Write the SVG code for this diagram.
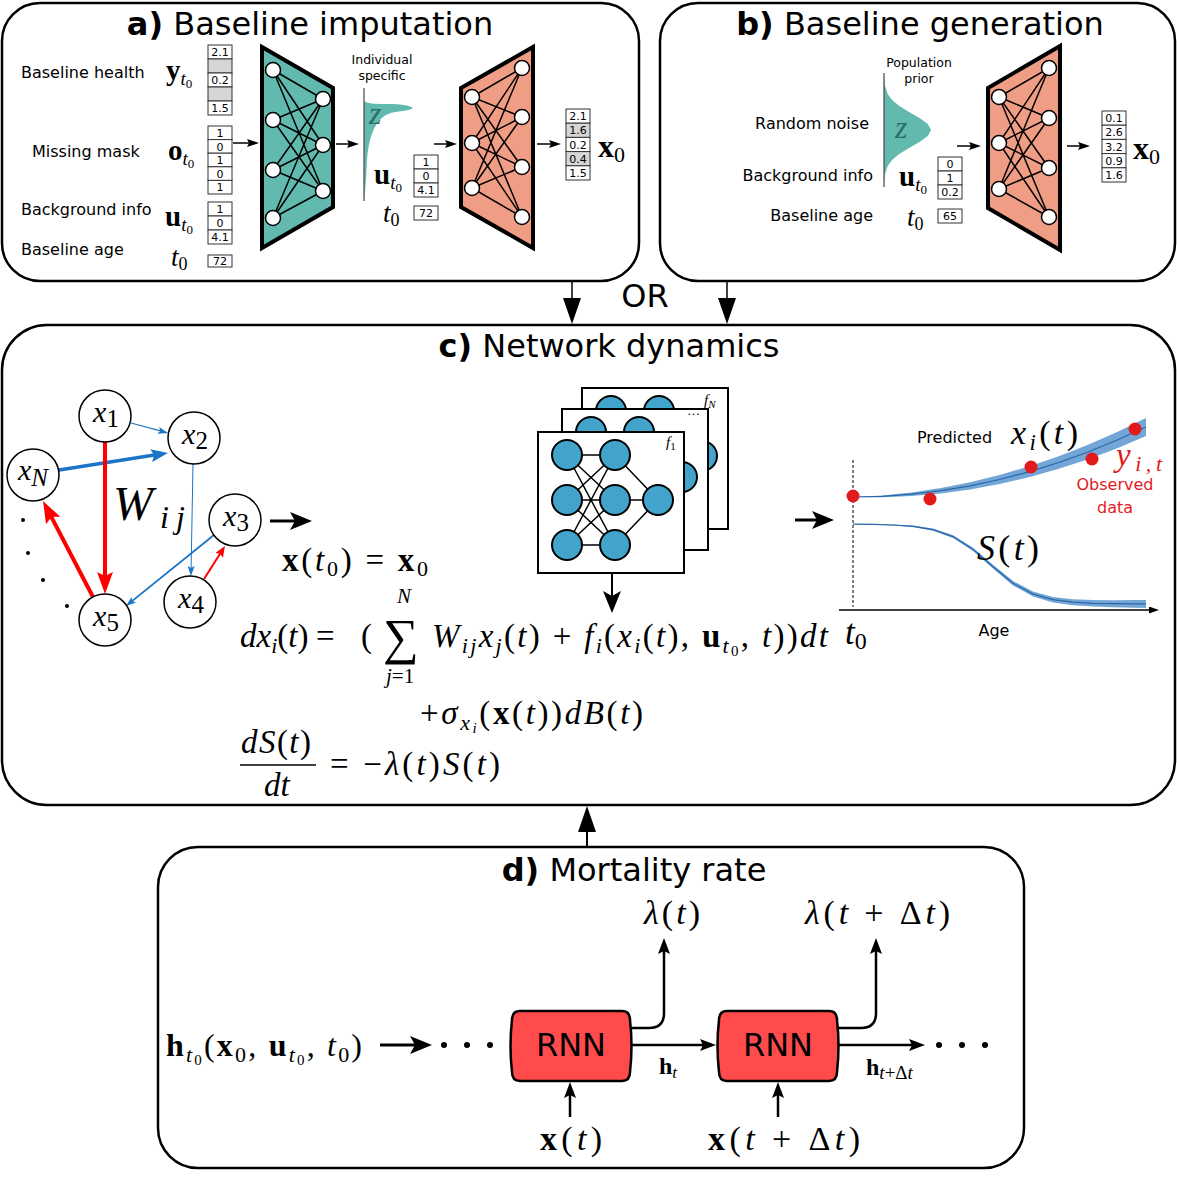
<svg xmlns="http://www.w3.org/2000/svg" xmlns:xlink="http://www.w3.org/1999/xlink" width="1177" height="1200" viewBox="0 0 1177 1200">
<style>
.pan{fill:#fff;stroke:#000;stroke-width:2.5}
.ttl{font-family:"DejaVu Sans",sans-serif;font-size:32px;text-anchor:middle}
.lb{font-family:"DejaVu Sans",sans-serif;font-size:16px}
.sm{font-family:"DejaVu Sans",sans-serif;font-size:12.5px;text-anchor:middle}
.vb{fill:#fff;stroke:#333;stroke-width:1}
.vg{fill:#d6d6d6;stroke:#333;stroke-width:1}
.vt{font-family:"DejaVu Sans",sans-serif;font-size:11px;text-anchor:middle}
.m{font-family:"Liberation Serif","DejaVu Serif",serif}
.i{font-style:italic}
.b{font-weight:bold}
.nn{fill:#fff;stroke:#000;stroke-width:1.5}
.ne{stroke:#000;stroke-width:1.5;fill:none}
.gn{fill:#fff;stroke:#000;stroke-width:1.5}
.fn{fill:#42a3cb;stroke:#000;stroke-width:2}
.teal{fill:#62b9ad;stroke:#000;stroke-width:4}
.pink{fill:#f09d86;stroke:#000;stroke-width:4}
.rnn{fill:#ff4b4b;stroke:#000;stroke-width:2.5}
.ar{stroke:#000;fill:none}
</style>
<defs>
<marker id="mBlkL" viewBox="0 0 22 18" refX="7" refY="9" markerWidth="22" markerHeight="18" markerUnits="userSpaceOnUse" orient="auto"><path d="M0,0 L22,9 L0,18 L5,9 Z" fill="#000"/></marker>
<marker id="mBlkT" viewBox="0 0 26 18" refX="3" refY="9" markerWidth="26" markerHeight="18" markerUnits="userSpaceOnUse" orient="auto"><path d="M0,0 L26,9 L0,18 Z" fill="#000"/></marker>
<marker id="mBlkM" viewBox="0 0 16 12" refX="5" refY="6" markerWidth="16" markerHeight="12" markerUnits="userSpaceOnUse" orient="auto"><path d="M0,0 L16,6 L0,12 L3,6 Z" fill="#000"/></marker>
<marker id="mBlkS" viewBox="0 0 12 8" refX="4" refY="4" markerWidth="12" markerHeight="8" markerUnits="userSpaceOnUse" orient="auto"><path d="M0,0 L12,4 L0,8 L2,4 Z" fill="#000"/></marker>
<marker id="mRedL" viewBox="0 0 22 16" refX="6" refY="8" markerWidth="22" markerHeight="16" markerUnits="userSpaceOnUse" orient="auto"><path d="M0,0 L22,8 L0,16 L4,8 Z" fill="#ff0000"/></marker>
<marker id="mRedS" viewBox="0 0 11 9" refX="3" refY="4.5" markerWidth="11" markerHeight="9" markerUnits="userSpaceOnUse" orient="auto"><path d="M0,0 L11,4.5 L0,9 L2,4.5 Z" fill="#ff0000"/></marker>
<marker id="mBluL" viewBox="0 0 17 13" refX="5" refY="6.5" markerWidth="17" markerHeight="13" markerUnits="userSpaceOnUse" orient="auto"><path d="M0,0 L17,6.5 L0,13 L3,6.5 Z" fill="#1a75c7"/></marker>
<marker id="mBluS" viewBox="0 0 10 7" refX="3" refY="3.5" markerWidth="10" markerHeight="7" markerUnits="userSpaceOnUse" orient="auto"><path d="M0,0 L10,3.5 L0,7 L2,3.5 Z" fill="#1a75c7"/></marker>
<marker id="mAx" viewBox="0 0 10 7" refX="2" refY="3.5" markerWidth="10" markerHeight="7" markerUnits="userSpaceOnUse" orient="auto"><path d="M0,0 L10,3.5 L0,7 Z" fill="#000"/></marker>
<g id="fnet">
<rect x="0" y="0" width="146" height="141" fill="#fff" stroke="#000" stroke-width="2"/>
<path class="ne" stroke-width="2" d="M29,23L77,23M29,23L77,68M29,23L77,113M29,68L77,23M29,68L77,68M29,68L77,113M29,113L77,23M29,113L77,68M29,113L77,113M77,23L120,68M77,68L120,68M77,113L120,68"/>
<circle class="fn" cx="29" cy="23" r="15"/><circle class="fn" cx="29" cy="68" r="15"/><circle class="fn" cx="29" cy="113" r="15"/>
<circle class="fn" cx="77" cy="23" r="15"/><circle class="fn" cx="77" cy="68" r="15"/><circle class="fn" cx="77" cy="113" r="15"/>
<circle class="fn" cx="120" cy="68" r="15"/>
</g>
</defs>

<g id="panel-a">
<rect class="pan" x="2" y="3" width="637" height="278" rx="38"/>
<text class="ttl" x="310" y="35"><tspan font-weight="bold">a)</tspan> Baseline imputation</text>
<text class="lb" x="21" y="78">Baseline health</text>
<text class="lb" x="32" y="157">Missing mask</text>
<text class="lb" x="21" y="215">Background info</text>
<text class="lb" x="21" y="255">Baseline age</text>
<text class="m" x="166" y="80" font-size="29"><tspan class="b">y</tspan><tspan class="i" font-size="19" dy="5">t</tspan><tspan font-size="13" dy="3">0</tspan></text>
<text class="m" x="168" y="160" font-size="29"><tspan class="b">o</tspan><tspan class="i" font-size="19" dy="5">t</tspan><tspan font-size="13" dy="3">0</tspan></text>
<text class="m" x="165" y="226" font-size="29"><tspan class="b">u</tspan><tspan class="i" font-size="19" dy="5">t</tspan><tspan font-size="13" dy="3">0</tspan></text>
<text class="m" x="171" y="266" font-size="27"><tspan class="i">t</tspan><tspan font-size="18" dy="4">0</tspan></text>
<rect class="vb" x="208" y="45" width="24" height="14"/><rect class="vg" x="208" y="59" width="24" height="14"/><rect class="vb" x="208" y="73" width="24" height="14"/><rect class="vg" x="208" y="87" width="24" height="14"/><rect class="vb" x="208" y="101" width="24" height="14"/>
<text class="vt" x="220" y="56">2.1</text><text class="vt" x="220" y="84">0.2</text><text class="vt" x="220" y="112">1.5</text>
<rect class="vb" x="208" y="126" width="24" height="13.6"/><rect class="vb" x="208" y="139.6" width="24" height="13.6"/><rect class="vb" x="208" y="153.2" width="24" height="13.6"/><rect class="vb" x="208" y="166.8" width="24" height="13.6"/><rect class="vb" x="208" y="180.4" width="24" height="13.6"/>
<text class="vt" x="220" y="137">1</text><text class="vt" x="220" y="150.6">0</text><text class="vt" x="220" y="164.2">1</text><text class="vt" x="220" y="177.8">0</text><text class="vt" x="220" y="191.4">1</text>
<rect class="vb" x="208" y="202" width="24" height="14"/><rect class="vb" x="208" y="216" width="24" height="14"/><rect class="vb" x="208" y="230" width="24" height="14"/>
<text class="vt" x="220" y="213">1</text><text class="vt" x="220" y="227">0</text><text class="vt" x="220" y="241">4.1</text>
<rect class="vb" x="208" y="255" width="24" height="12"/><text class="vt" x="220" y="265">72</text>

<polygon class="teal" points="262,47 333,88 333,207 262,248"/>
<path class="ne" d="M273,70L323,99M273,70L323,145M273,70L323,191M273,120L323,99M273,120L323,145M273,120L323,191M273,170L323,99M273,170L323,145M273,170L323,191M273,218L323,99M273,218L323,145M273,218L323,191"/>
<circle class="nn" cx="273" cy="70" r="7.5"/><circle class="nn" cx="273" cy="120" r="7.5"/><circle class="nn" cx="273" cy="170" r="7.5"/><circle class="nn" cx="273" cy="218" r="7.5"/>
<circle class="nn" cx="323" cy="99" r="7.5"/><circle class="nn" cx="323" cy="145" r="7.5"/><circle class="nn" cx="323" cy="191" r="7.5"/>

<text class="sm" x="382" y="64">Individual</text>
<text class="sm" x="382" y="80">specific</text>
<path d="M364,101 C368,104 376,104 388,104 C400,104 409,105 413,108 C408,112 398,110 388,114 C376,119 369,135 367,160 C366,180 365,195 364,200 Z" fill="#62b9ad"/>
<line x1="364" y1="88" x2="364" y2="201" stroke="#555" stroke-width="1.3"/>
<text class="m i" x="369" y="124" font-size="32" fill="#2a6f66">z</text>
<text class="m" x="374" y="184" font-size="29"><tspan class="b">u</tspan><tspan class="i" font-size="19" dy="5">t</tspan><tspan font-size="13" dy="3">0</tspan></text>
<rect class="vb" x="414" y="155" width="24" height="14"/><rect class="vb" x="414" y="169" width="24" height="14"/><rect class="vb" x="414" y="183" width="24" height="14"/>
<text class="vt" x="426" y="166">1</text><text class="vt" x="426" y="180">0</text><text class="vt" x="426" y="194">4.1</text>
<text class="m" x="383" y="222" font-size="27"><tspan class="i">t</tspan><tspan font-size="18" dy="4">0</tspan></text>
<rect class="vb" x="414" y="206" width="24" height="14"/><text class="vt" x="426" y="217">72</text>

<polygon class="pink" points="461,88 533,47 533,248 461,207"/>
<path class="ne" d="M472,97L522,68M472,97L522,117M472,97L522,167M472,97L522,217M472,143L522,68M472,143L522,117M472,143L522,167M472,143L522,217M472,188L522,68M472,188L522,117M472,188L522,167M472,188L522,217"/>
<circle class="nn" cx="472" cy="97" r="7.5"/><circle class="nn" cx="472" cy="143" r="7.5"/><circle class="nn" cx="472" cy="188" r="7.5"/>
<circle class="nn" cx="522" cy="68" r="7.5"/><circle class="nn" cx="522" cy="117" r="7.5"/><circle class="nn" cx="522" cy="167" r="7.5"/><circle class="nn" cx="522" cy="217" r="7.5"/>

<rect class="vb" x="566" y="109" width="24" height="14.2"/><rect class="vg" x="566" y="123.2" width="24" height="14.2"/><rect class="vb" x="566" y="137.4" width="24" height="14.2"/><rect class="vg" x="566" y="151.6" width="24" height="14.2"/><rect class="vb" x="566" y="165.8" width="24" height="14.2"/>
<text class="vt" x="578" y="120">2.1</text><text class="vt" x="578" y="134">1.6</text><text class="vt" x="578" y="148.5">0.2</text><text class="vt" x="578" y="162.5">0.4</text><text class="vt" x="578" y="177">1.5</text>
<text class="m" x="598" y="157" font-size="32"><tspan class="b">x</tspan><tspan font-size="22" dy="5">0</tspan></text>
</g>

<g id="panel-b">
<rect class="pan" x="660" y="3" width="515" height="278" rx="38"/>
<text class="ttl" x="920" y="35"><tspan font-weight="bold">b)</tspan> Baseline generation</text>
<text class="sm" x="919" y="67">Population</text>
<text class="sm" x="919" y="83">prior</text>
<path d="M884,76 L884.2,78 L885.1,86 L887.7,94 L892.1,100 L899.3,106 L909,112 L919.5,118 L927.8,124 L931,130 L927.8,136 L919.5,142 L909,148 L899.3,154 L892.1,160 L887.7,166 L885.1,174 L884.2,182 L884,184 Z" fill="#62b9ad"/>
<line x1="884" y1="73" x2="884" y2="187" stroke="#555" stroke-width="1.3"/>
<text class="m i" x="895" y="138" font-size="32" fill="#2a6f66">z</text>
<text class="lb" x="869" y="129" text-anchor="end">Random noise</text>
<text class="lb" x="873" y="181" text-anchor="end">Background info</text>
<text class="lb" x="873" y="221" text-anchor="end">Baseline age</text>
<text class="m" x="899" y="186" font-size="29"><tspan class="b">u</tspan><tspan class="i" font-size="19" dy="5">t</tspan><tspan font-size="13" dy="3">0</tspan></text>
<rect class="vb" x="938" y="157" width="24" height="14"/><rect class="vb" x="938" y="171" width="24" height="14"/><rect class="vb" x="938" y="185" width="24" height="14"/>
<text class="vt" x="950" y="168">0</text><text class="vt" x="950" y="182">1</text><text class="vt" x="950" y="196">0.2</text>
<text class="m" x="907" y="226" font-size="27"><tspan class="i">t</tspan><tspan font-size="18" dy="4">0</tspan></text>
<rect class="vb" x="938" y="209" width="24" height="14"/><text class="vt" x="950" y="220">65</text>
<polygon class="pink" points="988,88 1060,46 1060,250 988,208"/>
<path class="ne" d="M999,97L1049,68M999,97L1049,118M999,97L1049,168M999,97L1049,217M999,143L1049,68M999,143L1049,118M999,143L1049,168M999,143L1049,217M999,189L1049,68M999,189L1049,118M999,189L1049,168M999,189L1049,217"/>
<circle class="nn" cx="999" cy="97" r="7.5"/><circle class="nn" cx="999" cy="143" r="7.5"/><circle class="nn" cx="999" cy="189" r="7.5"/>
<circle class="nn" cx="1049" cy="68" r="7.5"/><circle class="nn" cx="1049" cy="118" r="7.5"/><circle class="nn" cx="1049" cy="168" r="7.5"/><circle class="nn" cx="1049" cy="217" r="7.5"/>
<rect class="vb" x="1102" y="111" width="24" height="14.2"/><rect class="vb" x="1102" y="125.2" width="24" height="14.2"/><rect class="vb" x="1102" y="139.4" width="24" height="14.2"/><rect class="vb" x="1102" y="153.6" width="24" height="14.2"/><rect class="vb" x="1102" y="167.8" width="24" height="14.2"/>
<text class="vt" x="1114" y="122">0.1</text><text class="vt" x="1114" y="136">2.6</text><text class="vt" x="1114" y="150.5">3.2</text><text class="vt" x="1114" y="164.5">0.9</text><text class="vt" x="1114" y="179">1.6</text>
<text class="m" x="1133" y="159" font-size="32"><tspan class="b">x</tspan><tspan font-size="22" dy="5">0</tspan></text>
</g>

<g id="panel-c">
<rect class="pan" x="2" y="325" width="1173" height="480" rx="45"/>
<text class="ttl" x="609" y="357"><tspan font-weight="bold">c)</tspan> Network dynamics</text>
<text class="m i" x="113" y="520" font-size="48" textLength="72" lengthAdjust="spacing">W<tspan font-size="32" dy="8">ij</tspan></text>
<circle cx="23" cy="520" r="2"/><circle cx="28" cy="553" r="2"/><circle cx="43" cy="580" r="2"/><circle cx="67" cy="606" r="2"/>
<text class="m" x="282" y="571" font-size="33" textLength="146" lengthAdjust="spacing"><tspan class="b">x</tspan>(<tspan class="i">t</tspan><tspan font-size="22" dy="5">0</tspan><tspan dy="-5">) = </tspan><tspan class="b">x</tspan><tspan font-size="22" dy="5">0</tspan></text>

<g id="fstack">
<use xlink:href="#fnet" transform="translate(582,388)"/>
<use xlink:href="#fnet" transform="translate(562,409)"/>
<use xlink:href="#fnet" transform="translate(538,432)"/>
<text class="m i" x="704" y="405" font-size="15">f<tspan font-size="11" dy="3">N</tspan></text>
<text class="m" x="687" y="418" font-size="13">···</text>
<text class="m i" x="666" y="447" font-size="15">f<tspan font-size="11" dy="3" font-style="normal">1</tspan></text>
</g>

<g id="plot">
<line x1="853" y1="460" x2="853" y2="607" stroke="#000" stroke-width="1" stroke-dasharray="3,2"/>
<line x1="839" y1="610" x2="1151" y2="610" stroke="#000" stroke-width="1.3" marker-end="url(#mAx)"/>
<polygon fill="#5b96cf" fill-opacity="0.85" points="853,497 882.3,495.4 911.6,492.4 940.9,488 970.2,482.2 999.5,475 1028.8,466.4 1058.1,456.4 1087.4,445 1116.7,432.2 1146,418 1146,436 1116.7,448.4 1087.4,459.4 1058.1,469 1028.8,477.2 999.5,484 970.2,489.4 940.9,493.4 911.6,496 882.3,497.2 853,497"/>
<polyline fill="none" stroke="#2a66a8" stroke-width="1.2" points="853,497 882.3,496.3 911.6,494.2 940.9,490.7 970.2,485.8 999.5,479.5 1028.8,471.8 1058.1,462.7 1087.4,452.2 1116.7,440.3 1146,427"/>
<polygon fill="#5b96cf" fill-opacity="0.85" points="853,524.2 873,524.1 893,524.4 913,525.5 933,528.5 953,535.2 973,547.7 993,564.8 1013,581 1033,591.6 1053,597 1073,599.2 1093,600 1113,600.2 1133,600.1 1146,599.9 1146,607.9 1133,607.7 1113,607.3 1093,606.6 1073,605.2 1053,602.4 1033,596.6 1013,585.4 993,568.6 973,550.9 953,538 933,530.7 913,527.1 893,525.6 873,524.7 853,524.2"/>
<polyline fill="none" stroke="#2a66a8" stroke-width="1.2" points="853,524.2 873,524.4 893,525 913,526.3 933,529.6 953,536.6 973,549.3 993,566.7 1013,583.2 1033,594.1 1053,599.7 1073,602.2 1093,603.3 1113,603.7 1133,603.9 1146,603.9"/>
<g fill="#e31a1c"><circle cx="853" cy="496" r="6.5"/><circle cx="930" cy="499" r="6.5"/><circle cx="1031" cy="467" r="6.5"/><circle cx="1092" cy="459" r="6.5"/><circle cx="1135" cy="429" r="6.5"/></g>
<text class="lb" x="917" y="443" font-size="18.5">Predicted</text>
<text class="m i" x="1011" y="444" font-size="34" textLength="67" lengthAdjust="spacing">x<tspan font-size="23" dy="6">i</tspan><tspan dy="-6" font-style="normal">(</tspan>t<tspan font-style="normal">)</tspan></text>
<text class="m i" x="977" y="560" font-size="36" textLength="62" lengthAdjust="spacing">S<tspan font-style="normal">(</tspan>t<tspan font-style="normal">)</tspan></text>
<text class="m i" x="1116" y="466" font-size="33" fill="#e31a1c" textLength="46" lengthAdjust="spacing">y<tspan font-size="22" dy="5">i,t</tspan></text>
<text class="lb" x="1115" y="490" font-size="18.5" fill="#e31a1c" text-anchor="middle">Observed</text>
<text class="lb" x="1115" y="513" font-size="18.5" fill="#e31a1c" text-anchor="middle">data</text>
<text class="m" x="845" y="644" font-size="35"><tspan class="i">t</tspan><tspan font-size="24" dy="5">0</tspan></text>
<text class="lb" x="994" y="636" font-size="26" text-anchor="middle">Age</text>
</g>

<g id="equations">
<text class="m" y="647" font-size="33"><tspan x="240" class="i">dx</tspan><tspan class="i" font-size="22" dy="6">i</tspan><tspan dy="-6">(</tspan><tspan class="i">t</tspan><tspan>)</tspan><tspan x="316">=</tspan><tspan x="361">(</tspan></text>
<text class="m" x="383" y="654" font-size="50">∑</text>
<text class="m i" x="397" y="603" font-size="21">N</text>
<text class="m" x="386" y="683" font-size="21"><tspan class="i">j</tspan>=1</text>
<text class="m" x="432" y="647" font-size="33" textLength="396" lengthAdjust="spacing"><tspan class="i">W</tspan><tspan class="i" font-size="22" dy="6">ij</tspan><tspan class="i" dy="-6">x</tspan><tspan class="i" font-size="22" dy="6">j</tspan><tspan dy="-6">(</tspan><tspan class="i">t</tspan>) + <tspan class="i">f</tspan><tspan class="i" font-size="22" dy="6">i</tspan><tspan dy="-6">(</tspan><tspan class="i">x</tspan><tspan class="i" font-size="22" dy="6">i</tspan><tspan dy="-6">(</tspan><tspan class="i">t</tspan>), <tspan class="b">u</tspan><tspan class="i" font-size="22" dy="6">t</tspan><tspan font-size="15" dy="3">0</tspan><tspan dy="-9">, </tspan><tspan class="i">t</tspan>))<tspan class="i">dt</tspan></text>
<text class="m" x="420" y="724" font-size="33" textLength="223" lengthAdjust="spacing">+<tspan class="i">σ</tspan><tspan class="i" font-size="22" dy="6">x</tspan><tspan class="i" font-size="15" dy="3">i</tspan><tspan dy="-9">(</tspan><tspan class="b">x</tspan>(<tspan class="i">t</tspan>))<tspan class="i">dB</tspan>(<tspan class="i">t</tspan>)</text>
<text class="m" x="241" y="753" font-size="33" textLength="70" lengthAdjust="spacing"><tspan class="i">dS</tspan>(<tspan class="i">t</tspan>)</text>
<line x1="240" y1="765" x2="316" y2="765" stroke="#000" stroke-width="1.3"/>
<text class="m i" x="264" y="796" font-size="33">dt</text>
<text class="m" x="330" y="775" font-size="33" textLength="170" lengthAdjust="spacing">= −<tspan class="i">λ</tspan>(<tspan class="i">t</tspan>)<tspan class="i">S</tspan>(<tspan class="i">t</tspan>)</text>
</g>
</g>

<g id="panel-d">
<rect class="pan" x="158" y="847" width="866" height="321" rx="40"/>
<text class="ttl" x="634" y="881"><tspan font-weight="bold">d)</tspan> Mortality rate</text>
<text class="m" x="166" y="1056" font-size="32" textLength="196" lengthAdjust="spacing"><tspan class="b">h</tspan><tspan class="i" font-size="22" dy="6">t</tspan><tspan font-size="15" dy="3">0</tspan><tspan dy="-9">(</tspan><tspan class="b">x</tspan><tspan font-size="22" dy="6">0</tspan><tspan dy="-6">, </tspan><tspan class="b">u</tspan><tspan class="i" font-size="22" dy="6">t</tspan><tspan font-size="15" dy="3">0</tspan><tspan dy="-9">, </tspan><tspan class="i">t</tspan><tspan font-size="22" dy="6">0</tspan><tspan dy="-6">)</tspan></text>
<g fill="#000"><circle cx="444" cy="1045" r="3"/><circle cx="467" cy="1045" r="3"/><circle cx="490" cy="1045" r="3"/><circle cx="939" cy="1045" r="3"/><circle cx="962" cy="1045" r="3"/><circle cx="985" cy="1045" r="3"/></g>
<g id="rnn1">
<path class="rnn" d="M520,1011 L622,1011 Q630,1011 630,1020 Q633,1046 630,1072 Q630,1081 622,1081 L520,1081 Q512,1081 512,1072 Q509,1046 512,1020 Q512,1011 520,1011 Z"/>
<text class="ttl" x="571" y="1056" font-size="28">RNN</text>
</g>
<g id="rnn2">
<path class="rnn" d="M727,1011 L829,1011 Q837,1011 837,1020 Q840,1046 837,1072 Q837,1081 829,1081 L727,1081 Q719,1081 719,1072 Q716,1046 719,1020 Q719,1011 727,1011 Z"/>
<text class="ttl" x="778" y="1056" font-size="28">RNN</text>
</g>
<text class="m" x="659" y="1074" font-size="24"><tspan class="b">h</tspan><tspan class="i" font-size="17" dy="4">t</tspan></text>
<text class="m" x="866" y="1075" font-size="24"><tspan class="b">h</tspan><tspan class="i" font-size="19" dy="4">t</tspan><tspan font-size="19">+Δ</tspan><tspan class="i" font-size="19">t</tspan></text>
<text class="m" x="644" y="924" font-size="34" textLength="56" lengthAdjust="spacing"><tspan class="i">λ</tspan>(<tspan class="i">t</tspan>)</text>
<text class="m" x="805" y="924" font-size="34" textLength="145" lengthAdjust="spacing"><tspan class="i">λ</tspan>(<tspan class="i">t</tspan> + Δ<tspan class="i">t</tspan>)</text>
<text class="m" x="540" y="1150" font-size="34" textLength="62" lengthAdjust="spacing"><tspan class="b">x</tspan>(<tspan class="i">t</tspan>)</text>
<text class="m" x="708" y="1150" font-size="34" textLength="152" lengthAdjust="spacing"><tspan class="b">x</tspan>(<tspan class="i">t</tspan> + Δ<tspan class="i">t</tspan>)</text>
</g>

<g id="connectors">
<line class="ar" x1="233" y1="143" x2="251" y2="143" stroke-width="1.5" marker-end="url(#mBlkS)"/>
<line class="ar" x1="336" y1="144" x2="351" y2="144" stroke-width="1.5" marker-end="url(#mBlkS)"/>
<line class="ar" x1="434" y1="144" x2="449" y2="144" stroke-width="1.5" marker-end="url(#mBlkS)"/>
<line class="ar" x1="537" y1="144" x2="553" y2="144" stroke-width="1.5" marker-end="url(#mBlkS)"/>
<line class="ar" x1="957" y1="146" x2="973" y2="146" stroke-width="1.5" marker-end="url(#mBlkS)"/>
<line class="ar" x1="1067" y1="146" x2="1082" y2="146" stroke-width="1.5" marker-end="url(#mBlkS)"/>
<line class="ar" x1="572" y1="281" x2="572" y2="301" stroke-width="1.5" marker-end="url(#mBlkT)"/>
<line class="ar" x1="727" y1="281" x2="727" y2="301" stroke-width="1.5" marker-end="url(#mBlkT)"/>
<text class="ttl" x="645" y="307" font-size="27">OR</text>
<line class="ar" x1="587" y1="847" x2="587" y2="829" stroke-width="2" marker-end="url(#mBlkT)"/>
<line x1="131" y1="423" x2="161.2" y2="431.2" stroke="#1a75c7" stroke-width="1.2" marker-end="url(#mBluS)"/>
<line x1="59" y1="470" x2="156.1" y2="454.8" stroke="#1a75c7" stroke-width="3.5" marker-end="url(#mBluL)"/>
<line x1="105" y1="442" x2="105" y2="578" stroke="#ff0000" stroke-width="4" marker-end="url(#mRedL)"/>
<line x1="93" y1="597" x2="50.4" y2="515.2" stroke="#ff0000" stroke-width="4" marker-end="url(#mRedL)"/>
<line x1="193" y1="464" x2="191.1" y2="569" stroke="#1a75c7" stroke-width="1" marker-end="url(#mBluS)"/>
<line x1="214" y1="535" x2="131.4" y2="601.6" stroke="#1a75c7" stroke-width="1.8" marker-end="url(#mBluS)"/>
<line x1="204" y1="579" x2="220.7" y2="552.8" stroke="#ff0000" stroke-width="2" marker-end="url(#mRedS)"/>
<line class="ar" x1="270" y1="521" x2="297" y2="521" stroke-width="3" marker-end="url(#mBlkL)"/>
<line class="ar" x1="612" y1="573" x2="612" y2="598" stroke-width="2" marker-end="url(#mBlkL)"/>
<line class="ar" x1="795" y1="520" x2="819" y2="520" stroke-width="3" marker-end="url(#mBlkL)"/>
<line class="ar" x1="380" y1="1045" x2="417" y2="1045" stroke-width="3" marker-end="url(#mBlkL)"/>
<line class="ar" x1="632" y1="1045" x2="705" y2="1045" stroke-width="2.5" marker-end="url(#mBlkM)"/>
<line class="ar" x1="839" y1="1045" x2="914" y2="1045" stroke-width="2.5" marker-end="url(#mBlkM)"/>
<path class="ar" d="M630,1028 H649 Q664,1028 664,1013 V949" stroke-width="2.5" marker-end="url(#mBlkM)"/>
<path class="ar" d="M837,1028 H861 Q876,1028 876,1013 V949" stroke-width="2.5" marker-end="url(#mBlkM)"/>
<line class="ar" x1="570" y1="1117" x2="570" y2="1093" stroke-width="2.5" marker-end="url(#mBlkM)"/>
<line class="ar" x1="778" y1="1117" x2="778" y2="1093" stroke-width="2.5" marker-end="url(#mBlkM)"/>
</g>

<g id="graph-nodes">
<g id="node-x1"><circle class="gn" cx="105" cy="416" r="26"/><text class="m i" x="106" y="422" font-size="30" text-anchor="middle">x<tspan font-style="normal" font-size="25" dy="5">1</tspan></text></g>
<g id="node-x2"><circle class="gn" cx="194" cy="438" r="26"/><text class="m i" x="195" y="444" font-size="30" text-anchor="middle">x<tspan font-style="normal" font-size="25" dy="5">2</tspan></text></g>
<g id="node-xN"><circle class="gn" cx="33" cy="475" r="26"/><text class="m i" x="33" y="480" font-size="30" text-anchor="middle">x<tspan font-size="25" dy="6">N</tspan></text></g>
<g id="node-x3"><circle class="gn" cx="235" cy="520" r="26"/><text class="m i" x="236" y="526" font-size="30" text-anchor="middle">x<tspan font-style="normal" font-size="25" dy="5">3</tspan></text></g>
<g id="node-x4"><circle class="gn" cx="190" cy="602" r="26"/><text class="m i" x="191" y="608" font-size="30" text-anchor="middle">x<tspan font-style="normal" font-size="25" dy="5">4</tspan></text></g>
<g id="node-x5"><circle class="gn" cx="105" cy="620" r="26"/><text class="m i" x="106" y="626" font-size="30" text-anchor="middle">x<tspan font-style="normal" font-size="25" dy="5">5</tspan></text></g>
</g>
</svg>
